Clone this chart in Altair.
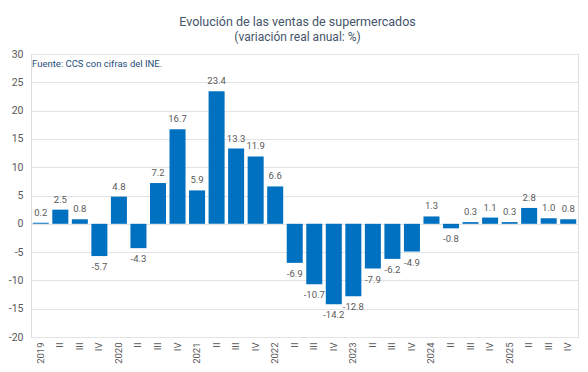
import altair as alt
import pandas as pd

years = ["2019", "2020", "2021", "2022", "2023", "2024", "2025"]
quarter_marks = ["I", "II", "III", "IV"]
values = [0.2, 2.5, 0.8, -5.7,
          4.8, -4.3, 7.2, 16.7,
          5.9, 23.4, 13.3, 11.9,
          6.6, -6.9, -10.7, -14.2,
          -12.8, -7.9, -6.2, -4.9,
          1.3, -0.8, 0.3, 1.1,
          0.3, 2.8, 1.0, 0.8]
y_ticks = [-20, -15, -10, -5, 0, 5, 10, 15, 20, 25, 30]

keys, labels = [], []
for y in years:
    for q in quarter_marks:
        keys.append(f"{y}-{q}")
        labels.append(y if q == "I" else q)

df = pd.DataFrame({"key": keys, "lab": labels, "v": values})
df["txt"] = df["v"].map(lambda x: f"{x:.1f}")

FONT = "Roboto"
GRAY = "#595959"

label_expr = "{" + ",".join(f"'{k}':'{l}'" for k, l in zip(keys, labels)) + "}[datum.value]"

x = alt.X("key:N", sort=keys, title=None,
          scale=alt.Scale(paddingInner=0.18, paddingOuter=0.09),
          axis=alt.Axis(labelAngle=-90, labelExpr=label_expr, ticks=False, domain=False,
                        labelPadding=5, labelFontSize=9.5, labelColor=GRAY, labelFont=FONT,
                        labelAlign="right", labelBaseline="middle", labelOverlap=False))
y = alt.Y("v:Q", title=None,
          scale=alt.Scale(domain=[-20, 30], nice=False),
          axis=alt.Axis(values=y_ticks, ticks=False, domain=False, labelOverlap=False,
                        labelExpr="datum.value + ''",
                        labelPadding=8, labelFontSize=10.5, labelColor=GRAY, labelFont=FONT,
                        gridColor="#E3E3E3", gridWidth=1.2))

base = alt.Chart(df)
bars = base.mark_bar(color="#0070C0").encode(x=x, y=y, y2=alt.datum(0))
pos_txt = base.transform_filter("datum.v >= 0").mark_text(
    baseline="bottom", dy=-5, fontSize=9.5, color=GRAY, font=FONT
).encode(x=x, y=y, text="txt:N")
neg_txt = base.transform_filter("datum.v < 0").mark_text(
    baseline="top", dy=6, fontSize=9.5, color=GRAY, font=FONT
).encode(x=x, y=y, text="txt:N")
source = alt.Chart(pd.DataFrame({"t": ["Fuente: CCS con cifras del INE."]})).mark_text(
    align="left", baseline="middle", fontSize=9.5, color="#1F4E79", font=FONT
).encode(x=alt.value(1), y=alt.value(10), text="t:N")

chart = alt.layer(bars, pos_txt, neg_txt, source).properties(
    width=547, height=283,
    autosize=alt.AutoSizeParams(type="none"),
    padding={"left": 23, "top": 46, "right": 2, "bottom": 27},
    title=alt.TitleParams(
        text="Evolución  de las ventas de supermercados",
        subtitle="(variación real anual: %)",
        anchor="middle", fontSize=12.5, subtitleFontSize=12, font=FONT, subtitleFont=FONT,
        fontWeight="normal", color="#44546A", subtitleColor="#44546A",
        offset=6, subtitlePadding=4, dx=-7,
    ),
).configure_view(stroke=None).configure(background="white")

chart.save("out.html", embed_options={"renderer": "svg", "actions": False})
